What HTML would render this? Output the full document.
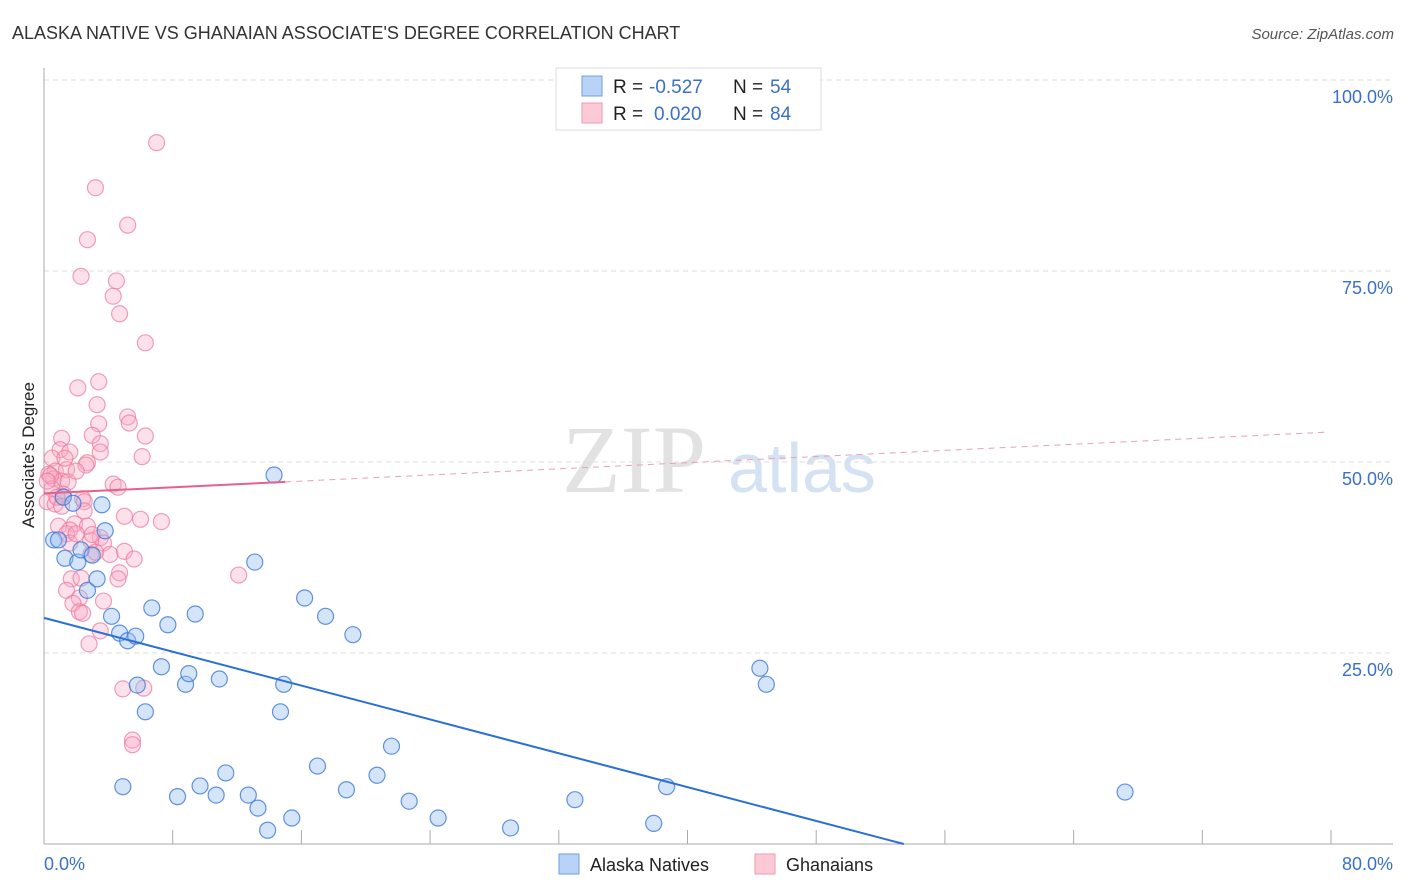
<!DOCTYPE html>
<html><head><meta charset="utf-8"><style>
body{margin:0;background:#fff;font-family:"Liberation Sans",sans-serif}
svg{display:block}
</style></head><body>
<svg id="chart" width="1406" height="892">
<text x="12" y="39" font-size="18" fill="#333">ALASKA NATIVE VS GHANAIAN ASSOCIATE'S DEGREE CORRELATION CHART</text>
<text x="1394" y="39" font-size="15" fill="#555" font-style="italic" text-anchor="end">Source: ZipAtlas.com</text>
<text x="634" y="492" font-size="96" fill="#e2e2e2" font-family="Liberation Serif,serif" text-anchor="middle">ZIP</text>
<text x="802" y="492" font-size="70" fill="#d5e2f3" text-anchor="middle">atlas</text>
<g id="grid"></g>
<g id="points"></g>
<g id="lines"></g>
<text x="34" y="455" font-size="17" fill="#222" text-anchor="middle" transform="rotate(-90 34 455)">Associate's Degree</text>
<text x="44" y="870" font-size="18" fill="#3a70c8">0.0%</text>
<text x="1393" y="870" font-size="18" fill="#3a70c8" text-anchor="end">80.0%</text>
<g>
<rect x="559" y="854" width="20" height="20" fill="#b8d3f5" stroke="#6f9fe0"/>
<text x="590" y="871" font-size="18" fill="#222">Alaska Natives</text>
<rect x="755" y="854" width="20" height="20" fill="#fcc9d7" stroke="#ee9ab2"/>
<text x="786" y="871" font-size="18" fill="#222">Ghanaians</text>
</g>
<g font-size="19">
<rect x="556" y="68" width="265" height="62" fill="#fff" stroke="#ddd"/>
<rect x="582" y="76" width="20" height="20" fill="#b8d3f5" stroke="#6f9fe0"/>
<rect x="582" y="103" width="20" height="20" fill="#fcc9d7" stroke="#ee9ab2"/>
<text x="613" y="93" fill="#222">R =</text>
<text x="649" y="93" fill="#3a70c8">-0.527</text>
<text x="733" y="93" fill="#222">N =</text>
<text x="770" y="93" fill="#3a70c8">54</text>
<text x="613" y="120" fill="#222">R =</text>
<text x="654" y="120" fill="#3a70c8">0.020</text>
<text x="733" y="120" fill="#222">N =</text>
<text x="770" y="120" fill="#3a70c8">84</text>
</g>
</svg>
<script>
const blueX=[0.6,1.2,1.3,1.8,2.1,2.3,2.7,3.0,3.3,3.6,3.8,4.2,4.7,5.2,5.7,5.8,6.3,6.7,7.3,7.7,8.8,9.0,9.4,10.9,13.1,14.3,14.9,14.7,16.2,17.5,19.2,17.0,18.8,20.7,21.6,22.7,24.5,29.0,33.0,37.9,38.7,44.5,44.9,67.2,4.9,8.3,9.7,10.7,11.3,12.7,13.3,13.9,15.4,0.9];
const blueY=[39.8,45.4,37.4,44.6,36.9,38.5,33.2,37.8,34.7,44.4,41.0,29.8,27.6,26.6,27.2,20.8,17.3,30.9,23.2,28.7,20.9,22.3,30.1,21.6,36.9,48.3,20.9,17.3,32.2,29.8,27.4,10.2,7.1,9.0,12.8,5.6,3.4,2.1,5.8,2.7,7.5,23.0,20.9,6.8,7.5,6.2,7.6,6.4,9.3,6.4,4.7,1.8,3.4,39.8];
const pinkX=[7.0,3.2,5.2,2.7,2.3,4.5,4.3,4.7,6.3,2.1,3.4,3.3,5.2,5.3,3.4,3.0,6.3,1.1,1.0,3.5,3.5,1.6,6.1,0.5,2.7,0.7,0.3,2.6,1.4,4.3,4.6,0.6,1.1,1.5,1.2,0.5,0.2,2.4,1.2,0.7,2.5,2.5,5.0,7.3,1.9,0.9,2.7,1.6,1.4,3.5,3.7,2.9,1.6,4.1,5.0,5.6,2.9,4.7,4.6,12.1,1.7,2.3,1.4,2.2,3.7,1.8,2.2,2.4,3.5,2.8,4.9,6.2,5.5,5.5,0.4,0.2,0.8,1.1,3.2,2.0,1.3,2.0,3.0,6.0];
const pinkY=[91.8,85.9,81.0,79.1,74.3,73.7,71.7,69.4,65.6,59.7,60.5,57.5,55.9,55.1,55.0,53.5,53.4,53.1,51.6,52.4,51.3,51.3,50.7,50.5,49.9,48.8,48.4,49.6,49.0,47.1,46.7,47.8,47.5,47.4,45.8,46.5,44.8,45.2,45.4,44.5,44.8,43.6,42.9,42.2,41.9,41.6,41.6,41.1,40.6,40.1,39.4,39.7,39.4,37.9,38.3,37.3,37.9,35.5,34.7,35.2,34.7,34.8,33.2,32.2,31.8,31.5,30.4,30.2,27.9,26.2,20.3,20.4,13.6,13.0,48.2,47.5,45.4,44.2,38.2,40.6,50.5,48.8,40.5,42.5];
const yTicks=[25,50,75,100];
const xTicks=[0,8,16,24,32,40,48,56,64,72,80];
const X0=44,X1=1331,Y0=844,Y1=80;
const sx=v=>X0+v/80*(X1-X0), sy=v=>Y0-v/100*(Y0-Y1);
const NS="http://www.w3.org/2000/svg";
function mk(t,a,p){const e=document.createElementNS(NS,t);for(const k in a)e.setAttribute(k,a[k]);p.appendChild(e);return e;}
const grid=document.getElementById('grid');
yTicks.forEach(v=>{
 const l=mk('line',{x1:44,x2:1393,y1:sy(v),y2:sy(v),stroke:'#ddd','stroke-dasharray':'5,4'},grid);
 
 
 const t=mk('text',{x:1393,y:sy(v)+23,'font-size':18,fill:'#3a70c8','text-anchor':'end'},grid);
 t.textContent=v.toFixed(1)+'%';
 
 
});
mk('line',{x1:44,x2:44,y1:68,y2:844,stroke:'#aaa'},grid);
const ax=mk('line',{x1:44,x2:1393,y1:844,y2:844,stroke:'#aaa'},grid);


xTicks.forEach(v=>{
 const t=mk('line',{x1:sx(v),x2:sx(v),y1:830,y2:844,stroke:'#aaa'},grid);
 
 
});
const pts=document.getElementById('points');
pinkX.forEach((x,i)=>{
 const c=mk('circle',{cx:sx(x),cy:sy(pinkY[i]),r:8,fill:'rgba(248,170,195,0.35)',stroke:'rgba(235,120,155,0.7)','stroke-width':1.2},pts);
 
 
});
blueX.forEach((x,i)=>{
 const c=mk('circle',{cx:sx(x),cy:sy(blueY[i]),r:8,fill:'rgba(150,190,240,0.4)',stroke:'rgba(60,120,215,0.8)','stroke-width':1.2},pts);
 
 
});
const ln=document.getElementById('lines');
function fit(xs,ys){const n=xs.length,mx=xs.reduce((a,b)=>a+b)/n,my=ys.reduce((a,b)=>a+b)/n;let sxy=0,sxx=0;xs.forEach((x,i)=>{sxy+=(x-mx)*(ys[i]-my);sxx+=(x-mx)**2});const b=sxy/sxx;return [my-b*mx,b];}
const [ba,bb]=fit(blueX,blueY);
const xe=Math.min(80,-ba/bb);
const bl=mk('line',{x1:sx(0),y1:sy(ba),x2:sx(xe),y2:sy(ba+bb*xe),stroke:'#2a6fd8','stroke-width':2},ln);


const [pa,pb]=fit(pinkX,pinkY);
const ps=mk('line',{x1:sx(0),y1:sy(pa),x2:sx(15),y2:sy(pa+pb*15),stroke:'#e8608a','stroke-width':2},ln);


const pd=mk('line',{x1:sx(15),y1:sy(pa+pb*15),x2:sx(79.7),y2:sy(pa+pb*79.7),stroke:'#e8a0b5','stroke-width':1,'stroke-dasharray':'6,5'},ln);


</script>
</body></html>
